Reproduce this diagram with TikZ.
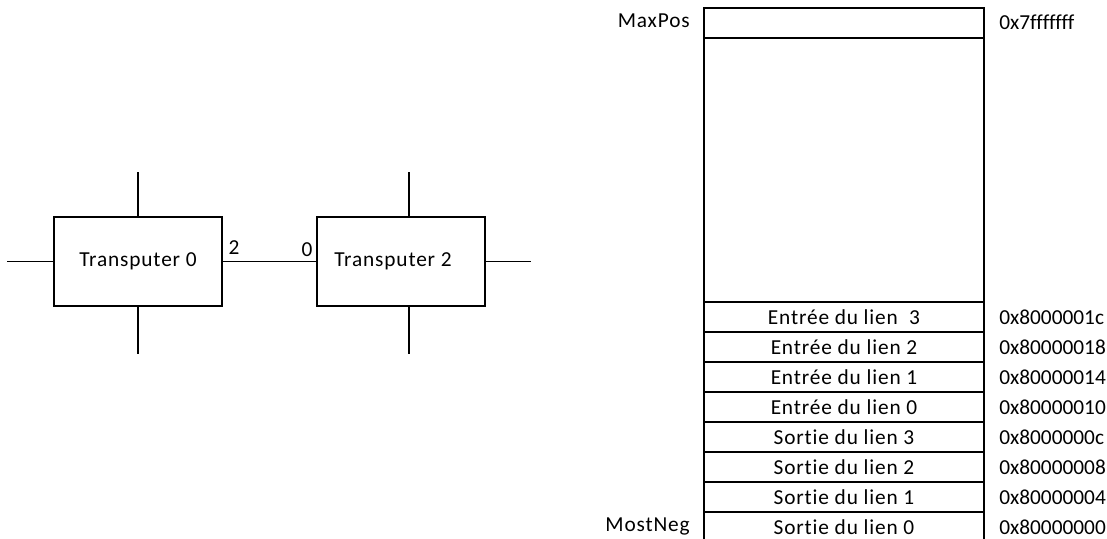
\documentclass[tikz,border=0pt]{standalone}
\usepackage{fontspec}
\setmainfont{Carlito}[Ligatures=NoCommon]
\newfontfamily\wide{Carlito}[Ligatures=NoCommon, LetterSpace=4]
\newcommand{\txtsize}{\fontsize{16}{19}\selectfont}
\usetikzlibrary{positioning}
\tikzset{
  tpbox/.style={rectangle, draw, line width=1pt, minimum width=126pt,
    minimum height=66.75pt, inner sep=0pt, outer sep=0pt, font=\wide\txtsize},
  cell/.style={rectangle, draw, line width=1pt, minimum width=210pt,
    minimum height=22.5pt, inner sep=0pt, outer sep=0pt, anchor=north,
    font=\wide\txtsize},
  addr/.style={anchor=west, inner sep=0pt},
  tag/.style={anchor=east, inner sep=0pt, font=\wide\txtsize},
  stub/.style={line width=1pt}
}

\begin{document}
\begin{tikzpicture}[x=0.75pt, y=-0.75pt, every node/.style={font=\txtsize}]
  \clip (0,0) rectangle (1107,539);

  % two transputers joined by link 2 -> 0
  \node[tpbox] (t0) at (138,261.5) {Transputer 0};
  \node[tpbox] (t2) at (401,261.5) {\hspace*{-12pt}Transputer 2};
  \draw[stub] (t0.east) -- (t2.west);
  \node (p2) at (234,248) {2};
  \node (p0) at (307,250) {0};

  % free links
  \draw[stub] (t0.north) -- ++(0,-45);
  \draw[stub] (t0.south) -- ++(0,48);
  \draw[stub] (t0.west) -- ++(-47,0);
  \draw[stub] ([xshift=6pt]t2.north) -- ++(0,-45);
  \draw[stub] ([xshift=6pt]t2.south) -- ++(0,48);
  \draw[stub] (t2.east) -- ++(46,0);

  % memory map
  \node[cell] (top) at (844,8) {};
  \node[cell, minimum height=198pt, below=0pt of top] (free) {};
  \node[tag] (maxpos) at (690,21) {MaxPos};
  \node[addr] (amax) at (999,22) {0x7fffffff};

  \foreach \lbl/\ad [count=\i] in {
      Entrée du lien\ \ 3/0x8000001c,
      Entrée du lien 2/0x80000018,
      Entrée du lien 1/0x80000014,
      Entrée du lien 0/0x80000010,
      Sortie du lien 3/0x8000000c,
      Sortie du lien 2/0x80000008,
      Sortie du lien 1/0x80000004,
      Sortie du lien 0/0x80000000} {
    \node[cell] (r\i) at (844,{302+30*(\i-1)}) {\lbl};
    \node[addr] (a\i) at ([xshift=11.25pt]r\i.east) {\ad};
  }
  \node[tag] (mostneg) at (690,526) {MostNeg};
\end{tikzpicture}
\end{document}
